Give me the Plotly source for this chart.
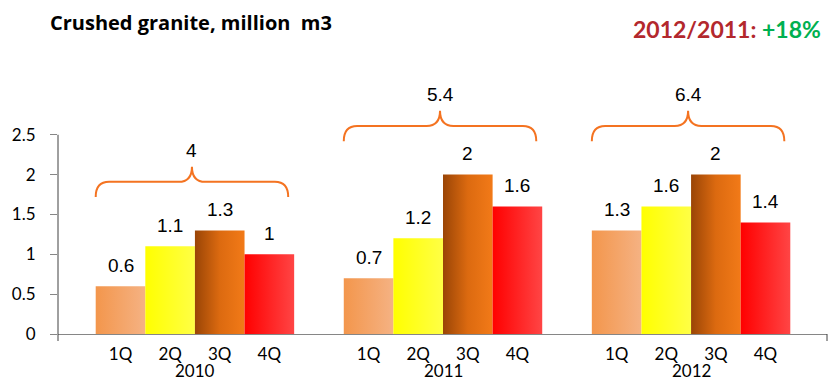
import plotly.graph_objects as go

# Crushed granite output by quarter, million m3
years = ["2010", "2011", "2012"]
quarters = ["1Q", "2Q", "3Q", "4Q"]
q_2010 = [0.6, 1.1, 1.3, 1.0]
q_2011 = [0.7, 1.2, 2.0, 1.6]
q_2012 = [1.3, 1.6, 2.0, 1.4]
year_totals = [4, 5.4, 6.4]
growth_label = "+18%"

series = [q_2010, q_2011, q_2012]

# horizontal gradient stops for each quarter
quarter_fills = [
    [[0, "#f3964c"], [1, "#f5b283"]],
    [[0, "#ffff00"], [1, "#ffff45"]],
    [[0, "#9a4506"], [0.5, "#dc6a10"], [1, "#f27a18"]],
    [[0, "#ff0000"], [1, "#ff4545"]],
]

BRACE = "#f47321"
AXIS = "#868686"
TICK_FONT = dict(family="Lato", size=17, color="#000000")
LABEL_FONT = dict(family="Liberation Sans", size=19, color="#000000")

Y_MAX = 3.3
PLOT_H = 263

fig = go.Figure()
annotations = []
shapes = []
tick_pos, tick_txt = [], []

for g, vals in enumerate(series):
    base_x = 5 * g
    for q, v in enumerate(vals):
        x = base_x + q
        tick_pos.append(x)
        tick_txt.append(quarters[q])
        fig.add_trace(go.Scatter(
            x=[x - 0.5, x - 0.5, x + 0.5, x + 0.5, x - 0.5],
            y=[0, v, v, 0, 0],
            mode="lines", fill="toself",
            line=dict(width=0),
            fillgradient=dict(type="horizontal", colorscale=quarter_fills[q]),
            hoverinfo="skip", showlegend=False,
        ))
        annotations.append(dict(
            x=x, y=v, xref="x", yref="y", text=f"{v:g}",
            showarrow=False, yanchor="middle", yshift=21, font=LABEL_FONT,
        ))

    # curly brace over the year with its total
    b = max(vals) + 0.42
    h = b + 0.19
    t = b + 0.38
    xs, xe, xc = base_x - 0.5, base_x + 3.38, base_x + 1.44
    d = 0.27
    path = (f"M {xs},{b} Q {xs},{h} {xs + d},{h} L {xc - d},{h} "
            f"Q {xc},{h} {xc},{t} Q {xc},{h} {xc + d},{h} "
            f"L {xe - d},{h} Q {xe},{h} {xe},{b}")
    shapes.append(dict(type="path", path=path, xref="x", yref="y",
                       line=dict(color=BRACE, width=2)))
    annotations.append(dict(
        x=xc, y=t, xref="x", yref="y", text=f"{year_totals[g]:g}",
        showarrow=False, yanchor="middle", yshift=16, font=LABEL_FONT,
    ))
    annotations.append(dict(
        x=base_x + 1.5, y=0, xref="x", yref="paper", text=years[g],
        showarrow=False, yanchor="bottom", yshift=-48, borderpad=0,
        font=TICK_FONT,
    ))

# headline comparison, top right
annotations.append(dict(
    x=1, y=1 + 42 / PLOT_H, xref="paper", yref="paper", xanchor="right",
    yanchor="middle", xshift=-4, showarrow=False,
    text=("<b><span style='color:#b3282d'>2012/2011:</span> "
          f"<span style='color:#00b050'>{growth_label}</span></b>"),
    font=dict(family="Lato", size=23),
))

# vertical axis line (stops at the last tick) and closing tick on the x axis
shapes.append(dict(type="line", xref="paper", yref="paper",
                   x0=0, x1=0, y0=-7 / PLOT_H, y1=2.5 / Y_MAX,
                   line=dict(color="#404040", width=1)))
shapes.append(dict(type="line", xref="paper", yref="paper",
                   x0=1, x1=1, y0=0, y1=-7 / PLOT_H,
                   line=dict(color="#404040", width=1)))

fig.update_layout(
    width=828, height=382,
    margin=dict(l=58, r=1, t=71, b=48),
    paper_bgcolor="white", plot_bgcolor="white",
    title=dict(text="<b>Crushed granite, million  m3</b>",
               x=50 / 828, xanchor="left", y=1 - 23 / 382, yanchor="middle",
               font=dict(family="Open Sans", size=20, color="#000000")),
    xaxis=dict(range=[-1.26, 14.24], tickvals=tick_pos, ticktext=tick_txt,
               showline=True, linecolor=AXIS, linewidth=1, showgrid=False,
               zeroline=False, ticks="", tickfont=TICK_FONT,
               ticklabelstandoff=5),
    yaxis=dict(range=[0, Y_MAX], tickvals=[0, 0.5, 1, 1.5, 2, 2.5],
               ticks="outside", ticklen=7, tickcolor=AXIS, showgrid=False,
               zeroline=False, showline=False, tickfont=TICK_FONT,
               ticklabelstandoff=11),
    annotations=annotations,
    shapes=shapes,
    showlegend=False,
)

fig.write_html("out.html")
